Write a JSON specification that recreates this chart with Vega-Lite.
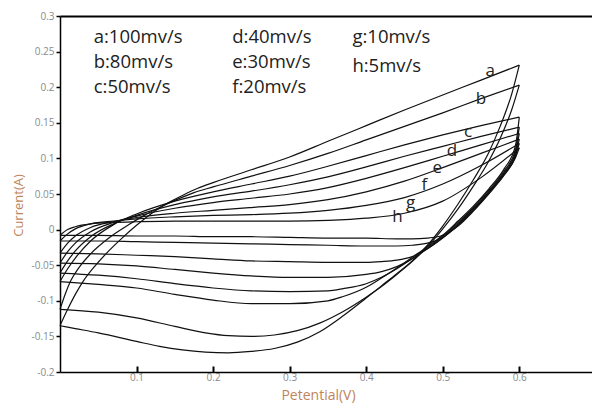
{
  "$schema": "https://vega.github.io/schema/vega-lite/v6.json",
  "width": 532,
  "height": 356,
  "autosize": "none",
  "padding": {"left": 60, "top": 16, "right": 0, "bottom": 34},
  "background": "white",
  "config": {"view": {"stroke": null}, "font": "Open Sans"},
  "resolve": {"axis": {"x": "independent", "y": "independent"}},
  "layer": [
    {
      "data": {"values": [
        {"s":"au","x":0,"y":-0.135},{"s":"au","x":0.01,"y":-0.112},{"s":"au","x":0.02,"y":-0.091},{"s":"au","x":0.03,"y":-0.073},{"s":"au","x":0.045,"y":-0.052},{"s":"au","x":0.06,"y":-0.034},{"s":"au","x":0.08,"y":-0.013},{"s":"au","x":0.1,"y":0.006},{"s":"au","x":0.12,"y":0.023},{"s":"au","x":0.14,"y":0.037},{"s":"au","x":0.16,"y":0.048},{"s":"au","x":0.18,"y":0.058},{"s":"au","x":0.2,"y":0.066},{"s":"au","x":0.25,"y":0.084},{"s":"au","x":0.3,"y":0.102},{"s":"au","x":0.35,"y":0.124},{"s":"au","x":0.4,"y":0.146},{"s":"au","x":0.45,"y":0.168},{"s":"au","x":0.5,"y":0.189},{"s":"au","x":0.55,"y":0.21},{"s":"au","x":0.6,"y":0.231},
        {"s":"bu","x":0,"y":-0.112},{"s":"bu","x":0.007,"y":-0.09},{"s":"bu","x":0.014,"y":-0.072},{"s":"bu","x":0.025,"y":-0.053},{"s":"bu","x":0.04,"y":-0.034},{"s":"bu","x":0.066,"y":-0.01},{"s":"bu","x":0.09,"y":0.007},{"s":"bu","x":0.11,"y":0.02},{"s":"bu","x":0.13,"y":0.031},{"s":"bu","x":0.15,"y":0.041},{"s":"bu","x":0.175,"y":0.052},{"s":"bu","x":0.2,"y":0.06},{"s":"bu","x":0.25,"y":0.075},{"s":"bu","x":0.3,"y":0.09},{"s":"bu","x":0.35,"y":0.107},{"s":"bu","x":0.4,"y":0.126},{"s":"bu","x":0.45,"y":0.145},{"s":"bu","x":0.5,"y":0.164},{"s":"bu","x":0.55,"y":0.184},{"s":"bu","x":0.6,"y":0.203},
        {"s":"cu","x":0,"y":-0.073},{"s":"cu","x":0.01,"y":-0.055},{"s":"cu","x":0.02,"y":-0.04},{"s":"cu","x":0.04,"y":-0.016},{"s":"cu","x":0.07,"y":0.007},{"s":"cu","x":0.1,"y":0.022},{"s":"cu","x":0.15,"y":0.04},{"s":"cu","x":0.2,"y":0.053},{"s":"cu","x":0.25,"y":0.064},{"s":"cu","x":0.3,"y":0.075},{"s":"cu","x":0.35,"y":0.089},{"s":"cu","x":0.4,"y":0.104},{"s":"cu","x":0.45,"y":0.119},{"s":"cu","x":0.5,"y":0.133},{"s":"cu","x":0.55,"y":0.146},{"s":"cu","x":0.6,"y":0.158},
        {"s":"du","x":0,"y":-0.061},{"s":"du","x":0.01,"y":-0.044},{"s":"du","x":0.02,"y":-0.03},{"s":"du","x":0.04,"y":-0.01},{"s":"du","x":0.07,"y":0.008},{"s":"du","x":0.1,"y":0.02},{"s":"du","x":0.15,"y":0.035},{"s":"du","x":0.2,"y":0.046},{"s":"du","x":0.25,"y":0.054},{"s":"du","x":0.3,"y":0.063},{"s":"du","x":0.35,"y":0.074},{"s":"du","x":0.4,"y":0.088},{"s":"du","x":0.45,"y":0.103},{"s":"du","x":0.5,"y":0.117},{"s":"du","x":0.55,"y":0.131},{"s":"du","x":0.6,"y":0.144},
        {"s":"eu","x":0,"y":-0.047},{"s":"eu","x":0.01,"y":-0.031},{"s":"eu","x":0.02,"y":-0.019},{"s":"eu","x":0.04,"y":-0.003},{"s":"eu","x":0.07,"y":0.01},{"s":"eu","x":0.1,"y":0.019},{"s":"eu","x":0.15,"y":0.03},{"s":"eu","x":0.2,"y":0.038},{"s":"eu","x":0.25,"y":0.044},{"s":"eu","x":0.3,"y":0.05},{"s":"eu","x":0.35,"y":0.059},{"s":"eu","x":0.4,"y":0.072},{"s":"eu","x":0.45,"y":0.087},{"s":"eu","x":0.5,"y":0.103},{"s":"eu","x":0.55,"y":0.119},{"s":"eu","x":0.6,"y":0.135},
        {"s":"fu","x":0,"y":-0.033},{"s":"fu","x":0.01,"y":-0.019},{"s":"fu","x":0.02,"y":-0.009},{"s":"fu","x":0.04,"y":0.003},{"s":"fu","x":0.07,"y":0.011},{"s":"fu","x":0.1,"y":0.017},{"s":"fu","x":0.15,"y":0.023},{"s":"fu","x":0.2,"y":0.027},{"s":"fu","x":0.25,"y":0.031},{"s":"fu","x":0.3,"y":0.035},{"s":"fu","x":0.35,"y":0.042},{"s":"fu","x":0.4,"y":0.053},{"s":"fu","x":0.45,"y":0.068},{"s":"fu","x":0.5,"y":0.087},{"s":"fu","x":0.55,"y":0.107},{"s":"fu","x":0.6,"y":0.127},
        {"s":"gu","x":0,"y":-0.016},{"s":"gu","x":0.01,"y":-0.006},{"s":"gu","x":0.02,"y":0.001},{"s":"gu","x":0.04,"y":0.008},{"s":"gu","x":0.07,"y":0.012},{"s":"gu","x":0.1,"y":0.015},{"s":"gu","x":0.15,"y":0.018},{"s":"gu","x":0.2,"y":0.02},{"s":"gu","x":0.25,"y":0.021},{"s":"gu","x":0.3,"y":0.023},{"s":"gu","x":0.35,"y":0.027},{"s":"gu","x":0.4,"y":0.034},{"s":"gu","x":0.45,"y":0.045},{"s":"gu","x":0.5,"y":0.064},{"s":"gu","x":0.55,"y":0.09},{"s":"gu","x":0.6,"y":0.121},
        {"s":"hu","x":0,"y":-0.008},{"s":"hu","x":0.01,"y":0.0},{"s":"hu","x":0.02,"y":0.004},{"s":"hu","x":0.04,"y":0.008},{"s":"hu","x":0.07,"y":0.01},{"s":"hu","x":0.1,"y":0.011},{"s":"hu","x":0.15,"y":0.012},{"s":"hu","x":0.2,"y":0.012},{"s":"hu","x":0.25,"y":0.012},{"s":"hu","x":0.3,"y":0.012},{"s":"hu","x":0.35,"y":0.013},{"s":"hu","x":0.4,"y":0.016},{"s":"hu","x":0.45,"y":0.023},{"s":"hu","x":0.5,"y":0.04},{"s":"hu","x":0.55,"y":0.073},{"s":"hu","x":0.6,"y":0.115},
        {"s":"al","x":0.6,"y":0.231},{"s":"al","x":0.59,"y":0.19},{"s":"al","x":0.575,"y":0.145},{"s":"al","x":0.56,"y":0.108},{"s":"al","x":0.54,"y":0.07},{"s":"al","x":0.52,"y":0.036},{"s":"al","x":0.5,"y":0.005},{"s":"al","x":0.48,"y":-0.022},{"s":"al","x":0.46,"y":-0.044},{"s":"al","x":0.44,"y":-0.062},{"s":"al","x":0.42,"y":-0.079},{"s":"al","x":0.4,"y":-0.096},{"s":"al","x":0.37,"y":-0.121},{"s":"al","x":0.34,"y":-0.143},{"s":"al","x":0.31,"y":-0.158},{"s":"al","x":0.28,"y":-0.167},{"s":"al","x":0.25,"y":-0.171},{"s":"al","x":0.22,"y":-0.173},{"s":"al","x":0.19,"y":-0.172},{"s":"al","x":0.16,"y":-0.169},{"s":"al","x":0.13,"y":-0.164},{"s":"al","x":0.1,"y":-0.157},{"s":"al","x":0.05,"y":-0.145},{"s":"al","x":0.02,"y":-0.139},{"s":"al","x":0,"y":-0.135},
        {"s":"bl","x":0.6,"y":0.203},{"s":"bl","x":0.59,"y":0.168},{"s":"bl","x":0.575,"y":0.128},{"s":"bl","x":0.56,"y":0.096},{"s":"bl","x":0.54,"y":0.061},{"s":"bl","x":0.52,"y":0.029},{"s":"bl","x":0.5,"y":0.001},{"s":"bl","x":0.48,"y":-0.024},{"s":"bl","x":0.46,"y":-0.045},{"s":"bl","x":0.44,"y":-0.063},{"s":"bl","x":0.42,"y":-0.08},{"s":"bl","x":0.4,"y":-0.095},{"s":"bl","x":0.37,"y":-0.115},{"s":"bl","x":0.34,"y":-0.131},{"s":"bl","x":0.31,"y":-0.142},{"s":"bl","x":0.28,"y":-0.148},{"s":"bl","x":0.25,"y":-0.15},{"s":"bl","x":0.22,"y":-0.149},{"s":"bl","x":0.19,"y":-0.145},{"s":"bl","x":0.15,"y":-0.136},{"s":"bl","x":0.1,"y":-0.124},{"s":"bl","x":0.05,"y":-0.116},{"s":"bl","x":0,"y":-0.112},
        {"s":"cl","x":0.6,"y":0.158},{"s":"cl","x":0.595,"y":0.118},{"s":"cl","x":0.58,"y":0.085},{"s":"cl","x":0.56,"y":0.057},{"s":"cl","x":0.54,"y":0.033},{"s":"cl","x":0.52,"y":0.012},{"s":"cl","x":0.5,"y":-0.008},{"s":"cl","x":0.48,"y":-0.024},{"s":"cl","x":0.46,"y":-0.039},{"s":"cl","x":0.44,"y":-0.054},{"s":"cl","x":0.42,"y":-0.068},{"s":"cl","x":0.4,"y":-0.081},{"s":"cl","x":0.37,"y":-0.094},{"s":"cl","x":0.35,"y":-0.1},{"s":"cl","x":0.3,"y":-0.104},{"s":"cl","x":0.25,"y":-0.104},{"s":"cl","x":0.2,"y":-0.099},{"s":"cl","x":0.15,"y":-0.091},{"s":"cl","x":0.1,"y":-0.082},{"s":"cl","x":0.05,"y":-0.077},{"s":"cl","x":0,"y":-0.073},
        {"s":"dl","x":0.6,"y":0.144},{"s":"dl","x":0.595,"y":0.112},{"s":"dl","x":0.58,"y":0.082},{"s":"dl","x":0.56,"y":0.055},{"s":"dl","x":0.54,"y":0.031},{"s":"dl","x":0.52,"y":0.01},{"s":"dl","x":0.5,"y":-0.009},{"s":"dl","x":0.48,"y":-0.026},{"s":"dl","x":0.46,"y":-0.041},{"s":"dl","x":0.44,"y":-0.055},{"s":"dl","x":0.42,"y":-0.067},{"s":"dl","x":0.4,"y":-0.076},{"s":"dl","x":0.37,"y":-0.083},{"s":"dl","x":0.35,"y":-0.086},{"s":"dl","x":0.3,"y":-0.087},{"s":"dl","x":0.25,"y":-0.086},{"s":"dl","x":0.2,"y":-0.082},{"s":"dl","x":0.15,"y":-0.076},{"s":"dl","x":0.1,"y":-0.069},{"s":"dl","x":0.05,"y":-0.064},{"s":"dl","x":0,"y":-0.061},
        {"s":"el","x":0.6,"y":0.135},{"s":"el","x":0.595,"y":0.108},{"s":"el","x":0.58,"y":0.08},{"s":"el","x":0.56,"y":0.053},{"s":"el","x":0.54,"y":0.029},{"s":"el","x":0.52,"y":0.008},{"s":"el","x":0.5,"y":-0.011},{"s":"el","x":0.48,"y":-0.027},{"s":"el","x":0.46,"y":-0.041},{"s":"el","x":0.44,"y":-0.052},{"s":"el","x":0.42,"y":-0.059},{"s":"el","x":0.4,"y":-0.063},{"s":"el","x":0.35,"y":-0.067},{"s":"el","x":0.3,"y":-0.067},{"s":"el","x":0.25,"y":-0.065},{"s":"el","x":0.2,"y":-0.061},{"s":"el","x":0.15,"y":-0.056},{"s":"el","x":0.1,"y":-0.051},{"s":"el","x":0.05,"y":-0.048},{"s":"el","x":0,"y":-0.047},
        {"s":"fl","x":0.6,"y":0.127},{"s":"fl","x":0.595,"y":0.105},{"s":"fl","x":0.58,"y":0.078},{"s":"fl","x":0.56,"y":0.052},{"s":"fl","x":0.54,"y":0.028},{"s":"fl","x":0.52,"y":0.007},{"s":"fl","x":0.5,"y":-0.012},{"s":"fl","x":0.48,"y":-0.027},{"s":"fl","x":0.46,"y":-0.038},{"s":"fl","x":0.44,"y":-0.043},{"s":"fl","x":0.42,"y":-0.045},{"s":"fl","x":0.4,"y":-0.046},{"s":"fl","x":0.35,"y":-0.046},{"s":"fl","x":0.3,"y":-0.045},{"s":"fl","x":0.25,"y":-0.044},{"s":"fl","x":0.2,"y":-0.041},{"s":"fl","x":0.15,"y":-0.038},{"s":"fl","x":0.1,"y":-0.036},{"s":"fl","x":0.05,"y":-0.034},{"s":"fl","x":0,"y":-0.033},
        {"s":"gl","x":0.6,"y":0.121},{"s":"gl","x":0.595,"y":0.103},{"s":"gl","x":0.58,"y":0.077},{"s":"gl","x":0.56,"y":0.051},{"s":"gl","x":0.54,"y":0.027},{"s":"gl","x":0.52,"y":0.006},{"s":"gl","x":0.5,"y":-0.011},{"s":"gl","x":0.48,"y":-0.019},{"s":"gl","x":0.46,"y":-0.022},{"s":"gl","x":0.44,"y":-0.023},{"s":"gl","x":0.42,"y":-0.023},{"s":"gl","x":0.4,"y":-0.023},{"s":"gl","x":0.35,"y":-0.022},{"s":"gl","x":0.3,"y":-0.021},{"s":"gl","x":0.25,"y":-0.02},{"s":"gl","x":0.2,"y":-0.019},{"s":"gl","x":0.15,"y":-0.018},{"s":"gl","x":0.1,"y":-0.017},{"s":"gl","x":0.05,"y":-0.016},{"s":"gl","x":0,"y":-0.016},
        {"s":"hl","x":0.6,"y":0.115},{"s":"hl","x":0.595,"y":0.101},{"s":"hl","x":0.58,"y":0.076},{"s":"hl","x":0.56,"y":0.05},{"s":"hl","x":0.54,"y":0.026},{"s":"hl","x":0.52,"y":0.005},{"s":"hl","x":0.5,"y":-0.008},{"s":"hl","x":0.48,"y":-0.012},{"s":"hl","x":0.46,"y":-0.013},{"s":"hl","x":0.44,"y":-0.013},{"s":"hl","x":0.4,"y":-0.012},{"s":"hl","x":0.35,"y":-0.012},{"s":"hl","x":0.3,"y":-0.011},{"s":"hl","x":0.25,"y":-0.01},{"s":"hl","x":0.2,"y":-0.01},{"s":"hl","x":0.15,"y":-0.009},{"s":"hl","x":0.1,"y":-0.009},{"s":"hl","x":0.05,"y":-0.008},{"s":"hl","x":0,"y":-0.008}
      ]},
      "mark": {"type": "line", "interpolate": "monotone", "color": "#111111", "strokeWidth": 1.2},
      "encoding": {
        "x": {"field": "x", "type": "quantitative",
          "scale": {"domain": [0, 0.695], "nice": false, "zero": false},
          "axis": {"orient": "bottom", "values": [0.1, 0.2, 0.3, 0.4, 0.5, 0.6], "labelExpr": "'' + datum.value",
            "title": "Petential(V)", "titleColor": "#c0845a", "titleFontSize": 14, "titleFontWeight": "normal", "titlePadding": 6, "titleX": 258,
            "labelColor": "#8a8a8a", "labelFontSize": 10, "labelPadding": 6,
            "domainColor": "#000000", "domainWidth": 1.5, "tickColor": "#000000", "tickWidth": 2, "tickSize": -6, "grid": false}},
        "y": {"field": "y", "type": "quantitative",
          "scale": {"domain": [-0.2, 0.3], "nice": false, "zero": false},
          "axis": {"orient": "left", "values": [-0.2, -0.15, -0.1, -0.05, 0, 0.05, 0.1, 0.15, 0.2, 0.25, 0.3], "labelExpr": "'' + datum.value",
            "title": "Current(A)", "titleColor": "#c0845a", "titleFontSize": 13, "titleFontWeight": "normal", "titlePadding": 6, "titleY": 189,
            "labelColor": "#8a8a8a", "labelFontSize": 10, "labelPadding": 2,
            "domainColor": "#000000", "domainWidth": 1.5, "tickColor": "#000000", "tickWidth": 1.5, "tickSize": 4, "grid": false}},
        "detail": {"field": "s", "type": "nominal"}
      }
    },
    {
      "data": {"values": [
        {"t": "a:100mv/s", "x": 0.044, "y": 0.27},
        {"t": "b:80mv/s", "x": 0.044, "y": 0.236},
        {"t": "c:50mv/s", "x": 0.044, "y": 0.2},
        {"t": "d:40mv/s", "x": 0.225, "y": 0.27},
        {"t": "e:30mv/s", "x": 0.225, "y": 0.236},
        {"t": "f:20mv/s", "x": 0.225, "y": 0.2},
        {"t": "g:10mv/s", "x": 0.382, "y": 0.27},
        {"t": "h:5mv/s", "x": 0.382, "y": 0.23}
      ]},
      "mark": {"type": "text", "align": "left", "baseline": "middle", "fontSize": 18.5, "color": "#222222"},
      "encoding": {
        "x": {"field": "x", "type": "quantitative",
          "axis": {"orient": "top", "labels": false, "ticks": false, "title": null, "grid": false, "domainColor": "#000000", "domainWidth": 2}},
        "y": {"field": "y", "type": "quantitative", "axis": null},
        "text": {"field": "t"}
      }
    },
    {
      "data": {"values": [
        {"t": "a", "x": 0.562, "y": 0.223},
        {"t": "b", "x": 0.55, "y": 0.183},
        {"t": "c", "x": 0.533, "y": 0.137},
        {"t": "d", "x": 0.512, "y": 0.11},
        {"t": "e", "x": 0.493, "y": 0.087},
        {"t": "f", "x": 0.476, "y": 0.063},
        {"t": "g", "x": 0.458, "y": 0.038},
        {"t": "h", "x": 0.441, "y": 0.017}
      ]},
      "mark": {"type": "text", "align": "center", "baseline": "middle", "fontSize": 17, "color": "#222222"},
      "encoding": {
        "x": {"field": "x", "type": "quantitative", "axis": null},
        "y": {"field": "y", "type": "quantitative", "axis": null},
        "text": {"field": "t"}
      }
    }
  ]
}
